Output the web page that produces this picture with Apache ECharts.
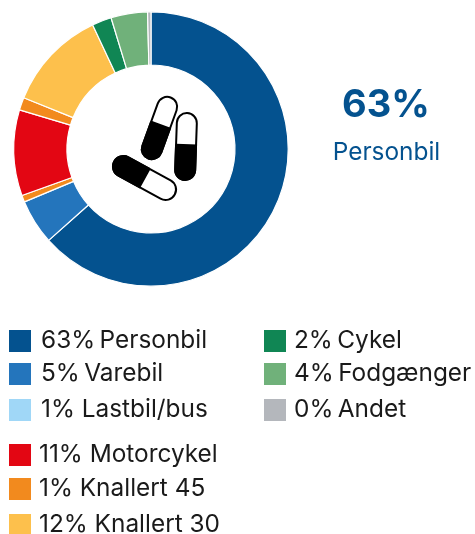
<!DOCTYPE html>
<html><head><meta charset="utf-8">
<style>html,body{margin:0;padding:0;background:#fff}#c{width:475px;height:534px}</style>
<script src="https://cdn.jsdelivr.net/npm/echarts@6/dist/echarts.min.js"></script>
</head><body><div id="c"></div>
<script>
// slices clockwise from top
const sliceNames = ['Personbil','Varebil','Lastbil/bus','Motorcykel','Knallert 45','Knallert 30','Cykel','Fodgænger','Andet'];
const sliceValues = [63.4,5.3,0.8,10.1,1.5,11.9,2.3,4.3,0.4];
const sliceColors = ['#04528f','#2475bc','#f28a1e','#e30613','#f28a1e','#fdc04c','#108654','#70b17a','#b4b7bc'];
const legendNames = ['Personbil','Varebil','Lastbil/bus','Cykel','Fodgænger','Andet','Motorcykel','Knallert 45','Knallert 30'];
const legendTexts = ['63%\u2009Personbil','5%\u2009Varebil','1% Lastbil/bus','2%\u2009Cykel','4%\u2009Fodgænger','0%\u2009Andet','11% Motorcykel','1% Knallert 45','12% Knallert 30'];
const legendColors = ['#04528f','#2475bc','#a0d7f7','#108654','#70b17a','#b4b7bc','#e30613','#f28a1e','#fdc04c'];
const legendLeft = [9,9,9,264,264,264,9,9,9];
const legendTop = [329,362,398,329,362,398,443,475,512];
const legendGap = [10,10,10,8,8,8,8,8,8];
const legendDy = [-1,0,-1,-1,0,-1,0,3,2];
const bigValue = '63%';
const bigLabel = 'Personbil';

function pill(cx,cy,deg,len,w,split){
  return {type:'group',x:cx,y:cy,rotation:-deg*Math.PI/180,children:[
    {type:'rect',shape:{x:-w/2,y:-len/2,width:w,height:len,r:w/2},style:{fill:'#fff',stroke:'#000',lineWidth:2}},
    {type:'rect',shape:{x:-w/2,y:split,width:w,height:len/2-split,r:[0,0,w/2,w/2]},style:{fill:'#000',stroke:'#000',lineWidth:2}}
  ]};
}
const chart = echarts.init(document.getElementById('c'),null,{renderer:'canvas'});
const font='Inter';
chart.setOption({
  animation:false,
  legend:legendNames.map((n,i)=>({
    data:[{name:n,itemStyle:{color:legendColors[i],borderWidth:0},icon:'rect'}],
    left:legendLeft[i],top:legendTop[i],padding:0,itemWidth:22,itemHeight:22,itemGap:0,
    selectedMode:false,
    formatter:()=>legendTexts[i],
    textStyle:{fontFamily:font,fontSize:24.4,lineHeight:22,color:'#1a1a1a',
      padding:[Math.max(legendDy[i],0)*2,0,Math.max(-legendDy[i],0)*2,legendGap[i]-5]}
  })),
  series:[{type:'pie',center:[151,149],radius:[84,137.2],startAngle:90,clockwise:true,
    silent:true,label:{show:false},labelLine:{show:false},
    itemStyle:{borderColor:'#fff',borderWidth:1.2},
    data:sliceNames.map((n,i)=>({name:n,value:sliceValues[i],itemStyle:{color:sliceColors[i]}}))}],
  graphic:[
    pill(159.5,128,20,65,20,-3),
    pill(186,146.5,2,67,20,-1.5),
    pill(144.5,178,118.7,69,21,0),
    {type:'text',x:386,y:106,style:{text:bigValue,fontFamily:font,fontWeight:700,fontSize:38,fill:'#04528f',align:'center',verticalAlign:'middle'}},
    {type:'text',x:386.5,y:153,style:{text:bigLabel,fontFamily:font,fontWeight:400,fontSize:24.4,fill:'#04528f',align:'center',verticalAlign:'middle'}}
  ]
});
</script></body></html>
